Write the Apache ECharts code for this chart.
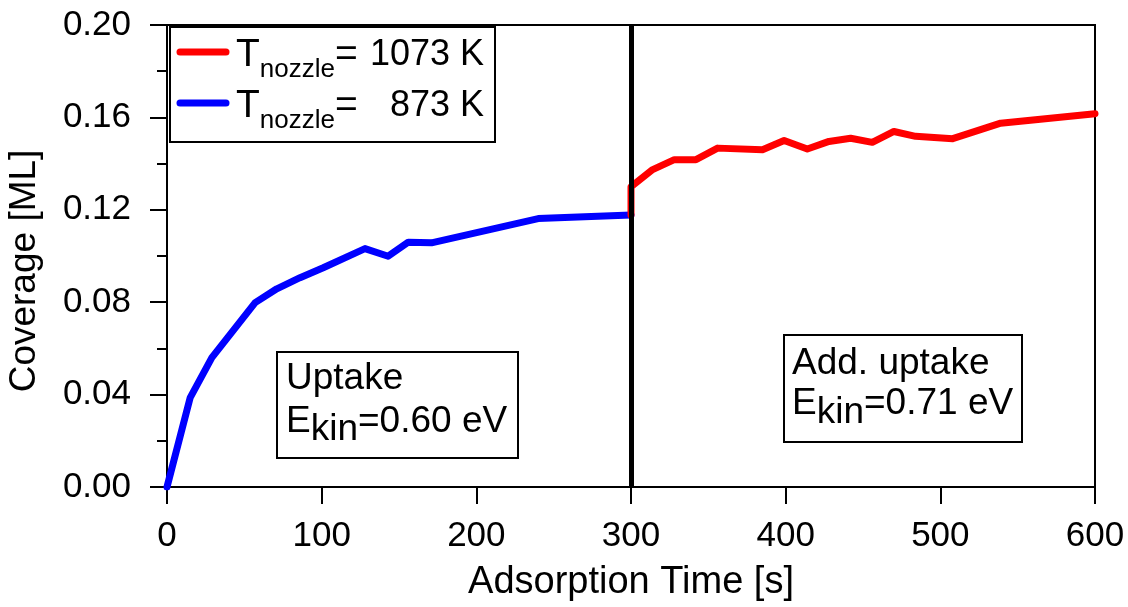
<!DOCTYPE html>
<html>
<head>
<meta charset="utf-8">
<script src="https://cdn.jsdelivr.net/npm/echarts@6/dist/echarts.min.js"></script>
<style>
html,body{margin:0;padding:0;background:#fff;}
#chart{width:1128px;height:607px;}
</style>
</head>
<body>
<div id="chart"></div>
<script>
// ---- data ----
var blueTime  = [0, 15, 29, 57, 71, 86, 101, 128, 143, 156, 171, 240, 300];
var blueCov   = [0, 0.0387, 0.056, 0.0798, 0.0858, 0.0906, 0.0949, 0.1032, 0.0999, 0.106, 0.1057, 0.1162, 0.1178];
var redTime   = [300, 300, 314, 328, 342, 356, 385, 399, 414, 428, 442, 456, 470, 484, 508, 539, 600];
var redCov    = [0.1178, 0.130, 0.1374, 0.1417, 0.1417, 0.1467, 0.146, 0.150, 0.1463, 0.1496, 0.151, 0.1492, 0.1539, 0.1518, 0.1508, 0.1575, 0.1616];
var dividerTime = 300;
var xTicks = [0, 100, 200, 300, 400, 500, 600];
var yTicks = [0, 0.04, 0.08, 0.12, 0.16, 0.20];
var legendTemps = ['1073 K', '873 K'];

var FONT = '"Liberation Sans", Arial, Helvetica, sans-serif';
function pairs(xs, ys){ return xs.map(function(x,i){ return [x, ys[i]]; }); }

var chart = echarts.init(document.getElementById('chart'), null, {renderer:'canvas'});

var richMain = function(size, subSize, subPad){
  return {
    m: {fontSize: size, fontFamily: FONT, color: '#000'},
    s: {fontSize: subSize, fontFamily: FONT, color: '#000', padding: [subPad, 0, 0, 0]}
  };
};

var option = {
  backgroundColor: '#fff',
  animation: false,
  grid: {left: 167, right: 33, top: 25, bottom: 119, show: true, borderColor: '#000', borderWidth: 2, backgroundColor: 'transparent'},
  xAxis: {
    type: 'value', min: xTicks[0], max: xTicks[xTicks.length-1], interval: 100,
    name: 'Adsorption Time [s]', nameLocation: 'middle', nameGap: 77,
    nameTextStyle: {fontSize: 38, fontFamily: FONT, color: '#000'},
    axisLine: {show: true, lineStyle: {color: '#000', width: 2}},
    axisTick: {show: true, length: 17, lineStyle: {color: '#000', width: 2}},
    axisLabel: {fontSize: 35, fontFamily: FONT, color: '#000', margin: 32},
    splitLine: {show: false}
  },
  yAxis: {
    type: 'value', min: yTicks[0], max: yTicks[yTicks.length-1], interval: 0.04,
    axisLine: {show: true, lineStyle: {color: '#000', width: 2}},
    axisTick: {show: true, length: 17, lineStyle: {color: '#000', width: 2}},
    minorTick: {show: true, splitNumber: 2, length: 10, lineStyle: {color: '#000', width: 2}},
    axisLabel: {fontSize: 35, fontFamily: FONT, color: '#000', margin: 36,
      formatter: function(v){ return v.toFixed(2); }},
    splitLine: {show: false}, minorSplitLine: {show: false}
  },
  series: [
    {
      name: 'T_nozzle = 873 K', type: 'line', data: pairs(blueTime, blueCov),
      showSymbol: false, symbol: 'none', z: 2,
      lineStyle: {color: '#0000ff', width: 7, cap: 'round', join: 'round'},
      markLine: {
        silent: true, symbol: ['none', 'none'], label: {show: false},
        lineStyle: {color: '#000', width: 5, type: 'solid'},
        data: [{xAxis: dividerTime}]
      }
    },
    {
      name: 'T_nozzle = 1073 K', type: 'line', data: pairs(redTime, redCov),
      showSymbol: false, symbol: 'none', z: 3,
      lineStyle: {color: '#ff0000', width: 7, cap: 'round', join: 'round'}
    }
  ],
  graphic: [
    // y-axis title
    {type: 'text', x: 25, y: 271, rotation: Math.PI/2, z: 10,
     style: {text: 'Coverage [ML]', font: '37px ' + FONT, fill: '#000', align: 'center', verticalAlign: 'middle'}},
    // legend box
    {type: 'rect', shape: {x: 170, y: 27, width: 325, height: 115}, z: 20,
     style: {fill: '#fff', stroke: '#000', lineWidth: 2}},
    {type: 'line', shape: {x1: 180, y1: 52, x2: 226, y2: 52}, z: 21,
     style: {stroke: '#ff0000', lineWidth: 7, lineCap: 'round'}},
    {type: 'line', shape: {x1: 180, y1: 103, x2: 226, y2: 103}, z: 21,
     style: {stroke: '#0000ff', lineWidth: 7, lineCap: 'round'}},
    {type: 'text', x: 236, y: 55, z: 21,
     style: {text: '{m|T}{s|nozzle}{m|=}', rich: richMain(39, 26, 30), align: 'left', verticalAlign: 'middle'}},
    {type: 'text', x: 236, y: 106, z: 21,
     style: {text: '{m|T}{s|nozzle}{m|=}', rich: richMain(39, 26, 30), align: 'left', verticalAlign: 'middle'}},
    {type: 'text', x: 484, y: 55, z: 21,
     style: {text: legendTemps[0], font: '36px ' + FONT, fill: '#000', align: 'right', verticalAlign: 'middle'}},
    {type: 'text', x: 484, y: 106, z: 21,
     style: {text: legendTemps[1], font: '36px ' + FONT, fill: '#000', align: 'right', verticalAlign: 'middle'}},
    // Uptake box
    {type: 'rect', shape: {x: 277, y: 352, width: 241, height: 106}, z: 20,
     style: {fill: '#fff', stroke: '#000', lineWidth: 2}},
    {type: 'text', x: 286, y: 379, z: 21,
     style: {text: 'Uptake', font: '37px ' + FONT, fill: '#000', align: 'left', verticalAlign: 'middle'}},
    {type: 'text', x: 286, y: 422, z: 21,
     style: {text: '{m|E}{s|kin}{m|=0.60 eV}', rich: richMain(37, 37, 16), align: 'left', verticalAlign: 'middle'}},
    // Add. uptake box
    {type: 'rect', shape: {x: 784, y: 335, width: 238, height: 107}, z: 20,
     style: {fill: '#fff', stroke: '#000', lineWidth: 2}},
    {type: 'text', x: 792, y: 364, z: 21,
     style: {text: 'Add. uptake', font: '37px ' + FONT, fill: '#000', align: 'left', verticalAlign: 'middle'}},
    {type: 'text', x: 792, y: 404, z: 21,
     style: {text: '{m|E}{s|kin}{m|=0.71 eV}', rich: richMain(37, 37, 18), align: 'left', verticalAlign: 'middle'}}
  ]
};
chart.setOption(option);
</script>
</body>
</html>
